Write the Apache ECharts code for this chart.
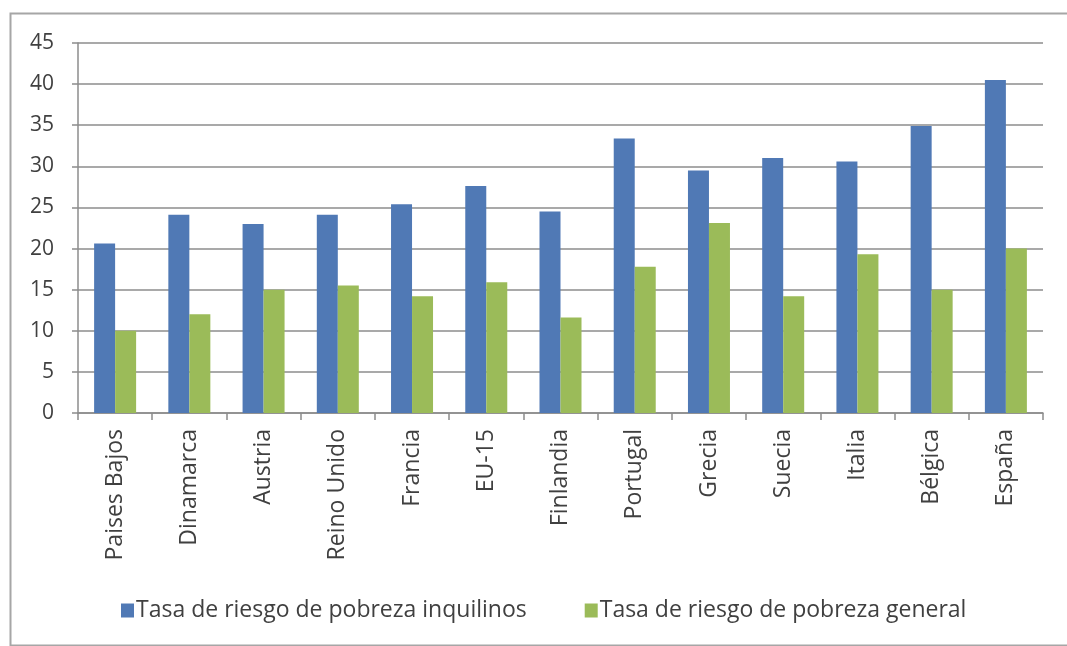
<!DOCTYPE html>
<html>
<head>
<meta charset="utf-8">
<script src="https://cdn.jsdelivr.net/npm/echarts@6/dist/echarts.min.js"></script>
<style>
html,body{margin:0;padding:0;background:#fff;}
#chart{width:1067px;height:646px;}
</style>
</head>
<body>
<div id="chart"></div>
<script>
const categories = ['Paises Bajos','Dinamarca','Austria','Reino Unido','Francia','EU-15','Finlandia','Portugal','Grecia','Suecia','Italia','Bélgica','España'];
const inquilinos = [20.6, 24.1, 23.0, 24.1, 25.4, 27.6, 24.5, 33.4, 29.5, 31.0, 30.6, 34.9, 40.5];
const general = [10.0, 12.0, 15.0, 15.5, 14.2, 15.9, 11.6, 17.8, 23.1, 14.2, 19.3, 15.0, 20.0];
const seriesNames = ['Tasa de riesgo de pobreza inquilinos', 'Tasa de riesgo de pobreza general'];
const yTicks = [0, 5, 10, 15, 20, 25, 30, 35, 40, 45];

const chart = echarts.init(document.getElementById('chart'), null, {renderer: 'canvas'});
const font = 'Open Sans';
chart.setOption({
  animation: false,
  backgroundColor: '#fff',
  graphic: [{
    type: 'rect', left: 8, top: 11,
    shape: {width: 1070, height: 632},
    style: {fill: 'none', stroke: '#a6a6a6', lineWidth: 2}
  }],
  grid: {left: 78, right: 24, top: 43, bottom: 233, containLabel: false},
  legend: {
    top: 594, left: 116,
    itemWidth: 13, itemHeight: 14, itemGap: 58,
    icon: 'rect',
    textStyle: {fontFamily: font, fontSize: 23, color: '#404040', padding: [0,0,0,-3]},
    data: seriesNames
  },
  xAxis: {
    type: 'category', data: categories,
    axisLine: {lineStyle: {color: '#8c8c8c', width: 1.5}},
    axisTick: {show: true, length: 7, lineStyle: {color: '#8c8c8c', width: 1.5}},
    axisLabel: {rotate: 90, fontFamily: font, fontSize: 23, color: '#404040', margin: 16, interval: 0}
  },
  yAxis: {
    type: 'value', min: yTicks[0], max: yTicks[yTicks.length-1], interval: 5,
    axisLine: {show: true, lineStyle: {color: '#8c8c8c', width: 1.5}},
    axisTick: {show: true, length: 6, lineStyle: {color: '#8c8c8c', width: 1.5}},
    splitLine: {lineStyle: {color: '#8c8c8c', width: 1.5}},
    axisLabel: {fontFamily: font, fontSize: 21, color: '#404040', margin: 24}
  },
  series: [
    {name: seriesNames[0], type: 'bar', data: inquilinos, barWidth: 21, barGap: '0%', itemStyle: {color: '#5079B5'}},
    {name: seriesNames[1], type: 'bar', data: general, barWidth: 21, itemStyle: {color: '#9BBB59'}}
  ]
});
</script>
</body>
</html>
